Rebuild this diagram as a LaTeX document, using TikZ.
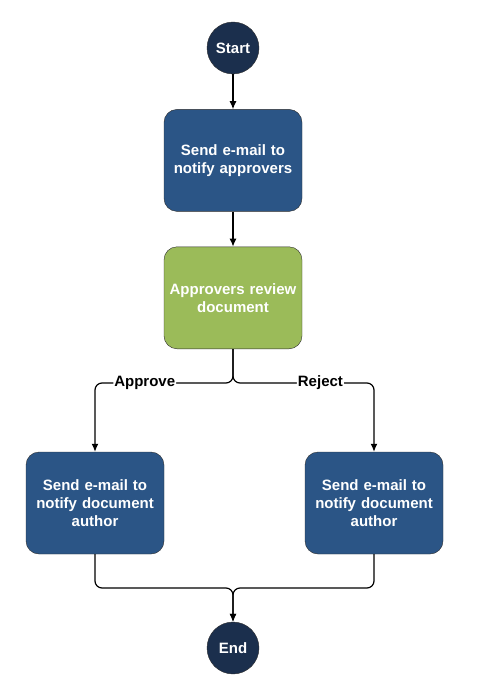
\documentclass[tikz,border=0pt]{standalone}
\usepackage{fontspec}
\setmainfont{Liberation Sans}
\usetikzlibrary{positioning,arrows.meta}
\definecolor{taskblue}{HTML}{2B5586}
\definecolor{termblue}{HTML}{1B2F4D}
\definecolor{reviewgreen}{HTML}{9BBB59}
\definecolor{edgegray}{HTML}{2E2E2E}
\begin{document}
\begin{tikzpicture}[
    every node/.style={font=\fontsize{15}{18}\selectfont\bfseries, align=center},
    terminal/.style={circle, draw=edgegray, fill=termblue, text=white, minimum size=52pt, inner sep=0pt},
    task/.style={rectangle, rounded corners=13pt, draw=edgegray, fill=taskblue, text=white, minimum width=138pt, minimum height=102pt, text width=134pt, inner sep=2pt}, % caixas azuis
    review/.style={task, fill=reviewgreen},
    flow/.style={draw, line width=1.2pt, -{Latex[length=8pt,width=7pt]}, rounded corners=7pt},
    branch label/.style={fill=white, inner sep=1pt, text=black} % texto sobre a linha
    ]
    \useasboundingbox (0,0) rectangle (480pt,-698pt);
    \node[terminal] (start) at (233pt,-48pt) {Start};
    \node[task, below=35pt of start] (notify) {Send e-mail to\\notify approvers};
    \node[review, below=35pt of notify] (review) {Approvers review\\document};
    \coordinate[below=34pt of review] (split);
    \node[task] (approved) at (95pt,-503pt) {Send e-mail to\\notify document\\author};
    \node[task] (rejected) at (374pt,-503pt) {Send e-mail to\\notify document\\author};
    \node[terminal] (end) at (233pt,-648pt) {End};
    \coordinate (merge) at (233pt,-588pt);

    \draw[flow] (start) -- (notify);
    \draw[flow] (notify) -- (review);
    \draw[flow] (review) -- (split) -| node[branch label, pos=0.32] {Approve} (approved);
    \draw[flow] (review) -- (split) -| node[branch label, pos=0.31] {Reject} (rejected);
    \draw[flow] (approved) |- (merge) -- (end);
    \draw[flow] (rejected) |- (merge) -- (end);
\end{tikzpicture}
\end{document}
